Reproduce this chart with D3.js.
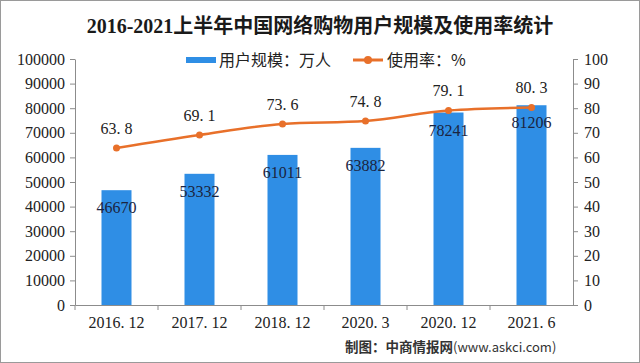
<!DOCTYPE html>
<html lang="zh">
<head>
<meta charset="UTF-8">
<title>网络购物用户规模</title>
<script src="https://d3js.org/d3.v7.min.js"></script>
<style>
  body { margin: 0; background: #fff; }
  svg { display: block; }
</style>
</head>
<body>
<script>
  const categories = ["2016. 12", "2017. 12", "2018. 12", "2020. 3", "2020. 12", "2021. 6"];
  const users = [46670, 53332, 61011, 63882, 78241, 81206];
  const rate = [63.8, 69.1, 73.6, 74.8, 79.1, 80.3];
  const leftTicks = d3.range(0, 100001, 10000);
  const rightTicks = d3.range(0, 101, 10);

  const W = 640, H = 363;
  const margin = { left: 75, right: 67, top: 59, bottom: 58 };
  const numFont = "'Liberation Serif', serif";

  const svg = d3.select("body").append("svg")
    .attr("width", W)
    .attr("height", H);

  svg.append("rect")
    .attr("x", 0.5).attr("y", 0.5)
    .attr("width", W - 1).attr("height", H - 1)
    .attr("fill", "#fff")
    .attr("stroke", "#9a9a9a");

  const x = d3.scaleBand()
    .domain(categories)
    .range([margin.left, W - margin.right]);
  const yL = d3.scaleLinear().domain([0, 100000]).range([H - margin.bottom, margin.top]);
  const yR = d3.scaleLinear().domain([0, 100]).range([H - margin.bottom, margin.top]);

  // title
  svg.append("text")
    .attr("x", 320).attr("y", 33)
    .attr("text-anchor", "middle")
    .attr("font-family", "'Liberation Serif', 'Noto Sans CJK SC', serif")
    .attr("font-weight", "bold")
    .attr("font-size", 20)
    .attr("fill", "#1a1a1a")
    .text("2016-2021上半年中国网络购物用户规模及使用率统计");

  // axes
  const styleAxis = g => {
    g.selectAll("path, line").attr("stroke", "#8c8c8c");
    g.selectAll("text")
      .attr("font-family", numFont)
      .attr("font-size", 16)
      .attr("fill", "#222");
  };

  svg.append("g")
    .attr("transform", `translate(${margin.left},0)`)
    .call(d3.axisLeft(yL).tickValues(leftTicks).tickFormat(d3.format("d"))
      .tickSize(5).tickSizeOuter(0).tickPadding(5))
    .call(styleAxis);

  svg.append("g")
    .attr("transform", `translate(${W - margin.right},0)`)
    .call(d3.axisRight(yR).tickValues(rightTicks).tickSize(5).tickSizeOuter(0).tickPadding(6))
    .call(styleAxis);

  const xAxis = svg.append("g")
    .attr("transform", `translate(0,${H - margin.bottom})`)
    .call(d3.axisBottom(x).tickSize(0).tickPadding(12))
    .call(styleAxis);
  // tick marks at band boundaries
  xAxis.selectAll(".sep")
    .data(categories)
    .enter().append("line")
    .attr("x1", d => x(d)).attr("x2", d => x(d))
    .attr("y1", 0).attr("y2", 5)
    .attr("stroke", "#8c8c8c");

  // bars
  const barW = 30;
  svg.selectAll(".bar")
    .data(users)
    .enter().append("rect")
    .attr("class", "bar")
    .attr("x", (d, i) => x(categories[i]) + x.bandwidth() / 2 - barW / 2)
    .attr("y", d => yL(d))
    .attr("width", barW)
    .attr("height", d => yL(0) - yL(d))
    .attr("fill", "#2f8ee5");

  svg.selectAll(".barLabel")
    .data(users)
    .enter().append("text")
    .attr("x", (d, i) => x(categories[i]) + x.bandwidth() / 2)
    .attr("y", d => yL(d) + 23)
    .attr("text-anchor", "middle")
    .attr("font-family", numFont)
    .attr("font-size", 16)
    .attr("fill", "#1b2440")
    .text(d => d);

  // line
  const line = d3.line()
    .x((d, i) => x(categories[i]) + x.bandwidth() / 2)
    .y(d => yR(d))
    .curve(d3.curveMonotoneX);

  svg.append("path")
    .datum(rate)
    .attr("d", line)
    .attr("fill", "none")
    .attr("stroke", "#e8702a")
    .attr("stroke-width", 2.5);

  svg.selectAll(".pt")
    .data(rate)
    .enter().append("circle")
    .attr("cx", (d, i) => x(categories[i]) + x.bandwidth() / 2)
    .attr("cy", d => yR(d))
    .attr("r", 3.5)
    .attr("fill", "#e8702a");

  svg.selectAll(".rateLabel")
    .data(rate)
    .enter().append("text")
    .attr("x", (d, i) => x(categories[i]) + x.bandwidth() / 2)
    .attr("y", d => yR(d) - 14)
    .attr("text-anchor", "middle")
    .attr("font-family", numFont)
    .attr("font-size", 16)
    .attr("fill", "#222")
    .text(d => d.toFixed(1).replace(".", ". "));

  // legend
  const lg = svg.append("g").attr("transform", "translate(0,60)");
  lg.append("rect")
    .attr("x", 186).attr("y", -3).attr("width", 30).attr("height", 6)
    .attr("fill", "#2f8ee5");
  lg.append("text")
    .attr("x", 219).attr("y", 6)
    .attr("font-family", "'Noto Sans CJK SC', sans-serif")
    .attr("font-size", 16)
    .attr("fill", "#222")
    .text("用户规模：万人");
  lg.append("line")
    .attr("x1", 353).attr("x2", 383).attr("y1", 0).attr("y2", 0)
    .attr("stroke", "#e8702a").attr("stroke-width", 3);
  lg.append("circle")
    .attr("cx", 368).attr("cy", 0).attr("r", 4)
    .attr("fill", "#e8702a");
  lg.append("text")
    .attr("x", 387).attr("y", 6)
    .attr("font-family", "'Noto Sans CJK SC', sans-serif")
    .attr("font-size", 16)
    .attr("fill", "#222")
    .text("使用率：%");

  // source
  svg.append("text")
    .attr("x", 345).attr("y", 352)
    .attr("font-family", "'Noto Sans CJK SC', sans-serif")
    .attr("font-size", 13.5)
    .attr("font-weight", "bold")
    .attr("fill", "#333")
    .text("制图：中商情报网")
    .append("tspan")
    .attr("font-weight", "normal")
    .attr("font-size", 13)
    .text("(www.askci.com)");
</script>
</body>
</html>
